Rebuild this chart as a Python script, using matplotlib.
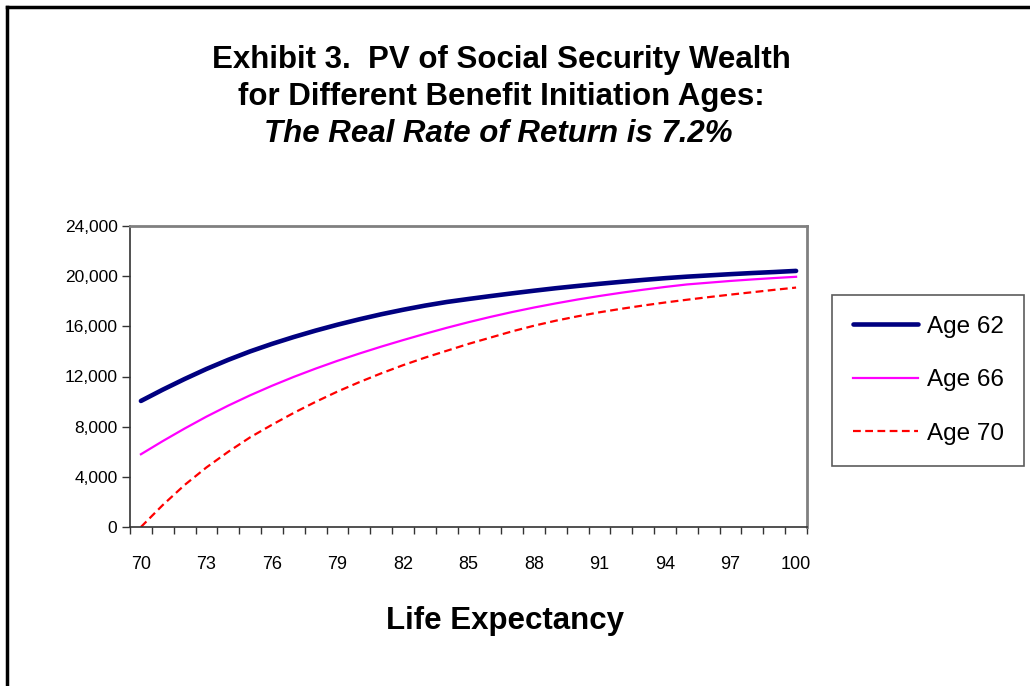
import matplotlib
matplotlib.use("Agg")
import matplotlib.pyplot as plt
from matplotlib.lines import Line2D
from matplotlib.ticker import FuncFormatter, FixedLocator

plt.rcParams["font.family"] = ["Liberation Sans", "DejaVu Sans"]

# Life expectancy (years) on the category axis
ages = list(range(70, 101))

# PV of Social Security wealth
age62 = [10050, 10950, 11800, 12600, 13330, 14000, 14600, 15150, 15660, 16130,
         16560, 16960, 17320, 17650, 17940, 18180, 18410, 18630, 18840, 19040,
         19220, 19390, 19550, 19700, 19840, 19960, 20060, 20160, 20250, 20330,
         20420]
age66 = [5800, 6850, 7850, 8800, 9680, 10500, 11260, 11970, 12630, 13250,
         13830, 14380, 14900, 15400, 15880, 16330, 16750, 17140, 17500, 17830,
         18140, 18420, 18680, 18920, 19140, 19340, 19480, 19620, 19740, 19850,
         19950]
age70 = [0, 1750, 3350, 4750, 6000, 7150, 8150, 9100, 9980, 10800,
         11550, 12250, 12900, 13500, 14050, 14600, 15100, 15600, 16050, 16450,
         16800, 17120, 17400, 17660, 17900, 18120, 18330, 18530, 18720, 18910,
         19090]

series_labels = ["Age 62", "Age 66", "Age 70"]
y_ticks = [0, 4000, 8000, 12000, 16000, 20000, 24000]
x_label_ages = ages[::3]

W, H = 1030, 686
fig = plt.figure(figsize=(W / 100, H / 100), dpi=100)
fig.patch.set_facecolor("white")

ax = fig.add_axes([130 / W, 1 - 527 / H, (807 - 130) / W, (527 - 226) / H])

ax.plot(ages, age62, color="#000080", lw=3.3, solid_capstyle="round",
        label=series_labels[0])
ax.plot(ages, age66, color="#FF00FF", lw=1.6, label=series_labels[1])
ax.plot(ages, age70, color="#FF0000", lw=1.6, linestyle=(0, (3.5, 2)),
        label=series_labels[2])

ax.set_xlim(ages[0] - 0.5, ages[-1] + 0.5)
ax.set_ylim(y_ticks[0], y_ticks[-1])

# category-style x axis: marks between categories, labels every 3rd year
ax.xaxis.set_major_locator(FixedLocator(x_label_ages))
ax.xaxis.set_minor_locator(FixedLocator([a - 0.5 for a in ages] + [ages[-1] + 0.5]))
ax.tick_params(axis="x", which="major", length=0, pad=21, labelsize=13)
ax.tick_params(axis="x", which="minor", length=5, width=1, direction="out",
               color="#333333")

ax.set_yticks(y_ticks)
ax.yaxis.set_major_formatter(FuncFormatter(lambda v, p: "{:,.0f}".format(v)))
ax.tick_params(axis="y", length=6, width=1, direction="out", pad=3,
               labelsize=12.5, color="#333333")

for side in ["left", "bottom"]:
    ax.spines[side].set_color("#333333")
    ax.spines[side].set_linewidth(1.2)
for side in ["top", "right"]:
    ax.spines[side].set_color("#808080")
    ax.spines[side].set_linewidth(2)

# title block
fig.text(501 / W, 1 - 60 / H, "Exhibit 3.  PV of Social Security Wealth",
         ha="center", va="center", fontsize=22.5, fontweight="bold")
fig.text(501 / W, 1 - 97 / H, "for Different Benefit Initiation Ages:",
         ha="center", va="center", fontsize=22.5, fontweight="bold")
fig.text(498 / W, 1 - 134 / H, "The Real Rate of Return is 7.2%",
         ha="center", va="center", fontsize=22.5, fontweight="bold",
         style="italic")

fig.text(505 / W, 1 - 621 / H, "Life Expectancy", ha="center", va="center",
         fontsize=22.5, fontweight="bold")

leg = fig.legend(loc="upper left", bbox_to_anchor=(832 / W, 1 - 295 / H),
                 fontsize=17.5, frameon=True, fancybox=False, shadow=False,
                 handlelength=2.7, handletextpad=0.35, labelspacing=1.3,
                 borderpad=0.85, borderaxespad=0)
leg.get_frame().set_edgecolor("#333333")
leg.get_frame().set_linewidth(1.2)

# outer chart border (cut off at right and bottom in the reference)
fig.add_artist(Line2D([7 / W, 7 / W], [1 - 7 / H, 0], transform=fig.transFigure,
                      color="black", lw=2.5))
fig.add_artist(Line2D([7 / W, 1], [1 - 7 / H, 1 - 7 / H],
                      transform=fig.transFigure, color="black", lw=2.5))

fig.savefig("out.png", dpi=100)
